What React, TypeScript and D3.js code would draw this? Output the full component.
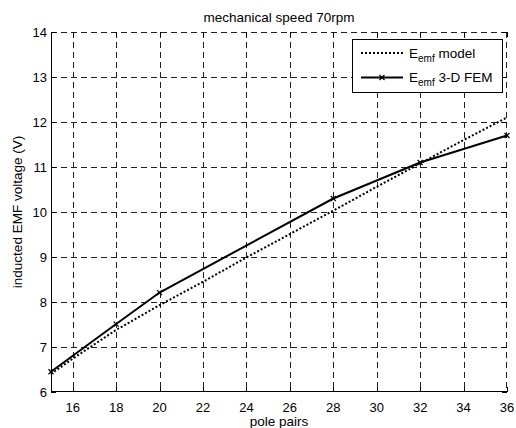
import React from 'react';
import * as d3 from "d3";

// pole pairs
const femPoles = [15, 18, 20, 28, 32, 36];
const femEmf = [6.45, 7.51, 8.21, 10.3, 11.1, 11.7];

const modelPoles = [15, 16, 18, 20, 22, 24, 26, 28, 30, 32, 34, 36];
const modelEmf = [6.4, 6.74, 7.38, 7.93, 8.45, 8.99, 9.51, 10.03, 10.56, 11.08, 11.6, 12.1];

const xTicks = [16, 18, 20, 22, 24, 26, 28, 30, 32, 34, 36];
const yTicks = [6, 7, 8, 9, 10, 11, 12, 13, 14];

const W = 516;
const H = 428;
const margin = { top: 32, right: 9, bottom: 36, left: 51 };
const font = "'Liberation Sans', Arial, sans-serif";

export default function App() {
  const x = d3.scaleLinear().domain([15, 36]).range([margin.left, W - margin.right]);
  const y = d3.scaleLinear().domain([6, 14]).range([H - margin.bottom, margin.top]);

  const x0 = x.range()[0], x1 = x.range()[1];
  const y0 = y.range()[0], y1 = y.range()[1];

  const line = d3.line<[number, number]>().x(d => x(d[0])).y(d => y(d[1]));
  const modelPath = line(modelPoles.map((p, i) => [p, modelEmf[i]]) as [number, number][]);
  const femPath = line(femPoles.map((p, i) => [p, femEmf[i]]) as [number, number][]);

  //small x markers like matlab
  const marker = (cx: number, cy: number, key: string | number) => (
    <g key={key} stroke="#000" strokeWidth={1.2}>
      <line x1={cx - 2.5} y1={cy - 2.5} x2={cx + 2.5} y2={cy + 2.5} />
      <line x1={cx - 2.5} y1={cy + 2.5} x2={cx + 2.5} y2={cy - 2.5} />
    </g>
  );

  const gridStyle = { stroke: "#222", strokeWidth: 1, strokeDasharray: "6,4" };

  return (
    <svg width={W} height={H} style={{ position: "absolute", left: 0, top: 0, background: "#fff" }}
      fontFamily={font}>
      {/* grid */}
      {xTicks.filter(t => t < 36).map(t => (
        <line key={"gx" + t} x1={Math.round(x(t)) + 0.5} x2={Math.round(x(t)) + 0.5} y1={y1} y2={y0} {...gridStyle} />
      ))}
      <line x1={x1 - 0.5} x2={x1 - 0.5} y1={y1} y2={y0} {...gridStyle} />
      {yTicks.filter(t => t > 6).map(t => (
        <line key={"gy" + t} x1={x0} x2={x1} y1={Math.round(y(t)) + 0.5} y2={Math.round(y(t)) + 0.5} {...gridStyle} />
      ))}

      {/* axis lines (left and bottom solid) */}
      <line x1={x0 + 0.5} x2={x0 + 0.5} y1={y1} y2={y0} stroke="#000" />
      <line x1={x0} x2={x1} y1={y0 - 0.5} y2={y0 - 0.5} stroke="#000" />

      {/* ticks inward */}
      {xTicks.map(t => (
        <g key={"tx" + t} stroke="#000">
          <line x1={Math.round(x(t)) + 0.5} x2={Math.round(x(t)) + 0.5} y1={y0} y2={y0 - 5} />
          <line x1={Math.round(x(t)) + 0.5} x2={Math.round(x(t)) + 0.5} y1={y1} y2={y1 + 5} />
        </g>
      ))}
      {yTicks.map(t => (
        <g key={"ty" + t} stroke="#000">
          <line x1={x0} x2={x0 + 5} y1={Math.round(y(t)) + 0.5} y2={Math.round(y(t)) + 0.5} />
          <line x1={x1} x2={x1 - 5} y1={Math.round(y(t)) + 0.5} y2={Math.round(y(t)) + 0.5} />
        </g>
      ))}

      {/* tick labels */}
      {xTicks.map(t => (
        <text key={"lx" + t} x={x(t)} y={y0 + 19.5} fontSize={13} textAnchor="middle" fill="#000">{t}</text>
      ))}
      {yTicks.map(t => (
        <text key={"ly" + t} x={x0 - 4} y={y(t) + 4.7} fontSize={13} textAnchor="end" fill="#000">{t}</text>
      ))}

      {/* series */}
      <path d={modelPath || ""} fill="none" stroke="#000" strokeWidth={2} strokeDasharray="2,2" />
      <path d={femPath || ""} fill="none" stroke="#000" strokeWidth={2} />
      {femPoles.map((p, i) => marker(x(p), y(femEmf[i]), i))}

      {/* titles */}
      <text x={(x0 + x1) / 2} y={22} fontSize={13.5} textAnchor="middle" fill="#000">mechanical speed 70rpm</text>
      <text x={(x0 + x1) / 2} y={426} fontSize={13.5} textAnchor="middle" fill="#000">pole pairs</text>
      <text transform={`translate(21.5, ${(y0 + y1) / 2}) rotate(-90)`} fontSize={13.5} textAnchor="middle" fill="#000">
        inducted EMF voltage (V)
      </text>

      {/* legend */}
      <g>
        <rect x={352.5} y={39.5} width={150} height={53} fill="#fff" stroke="#000" />
        <line x1={361} x2={403} y1={53} y2={53} stroke="#000" strokeWidth={2} strokeDasharray="2,2" />
        <text x={409} y={57.5} fontSize={13.5} fill="#000">
          E<tspan fontSize={10} dy={4}>emf</tspan><tspan dy={-4}> model</tspan>
        </text>
        <line x1={361} x2={403} y1={77.5} y2={77.5} stroke="#000" strokeWidth={2} />
        {marker(382, 77.5, "lg")}
        <text x={409} y={82} fontSize={13.5} fill="#000">
          E<tspan fontSize={10} dy={4}>emf</tspan><tspan dy={-4}> 3-D FEM</tspan>
        </text>
      </g>
    </svg>
  );
}
